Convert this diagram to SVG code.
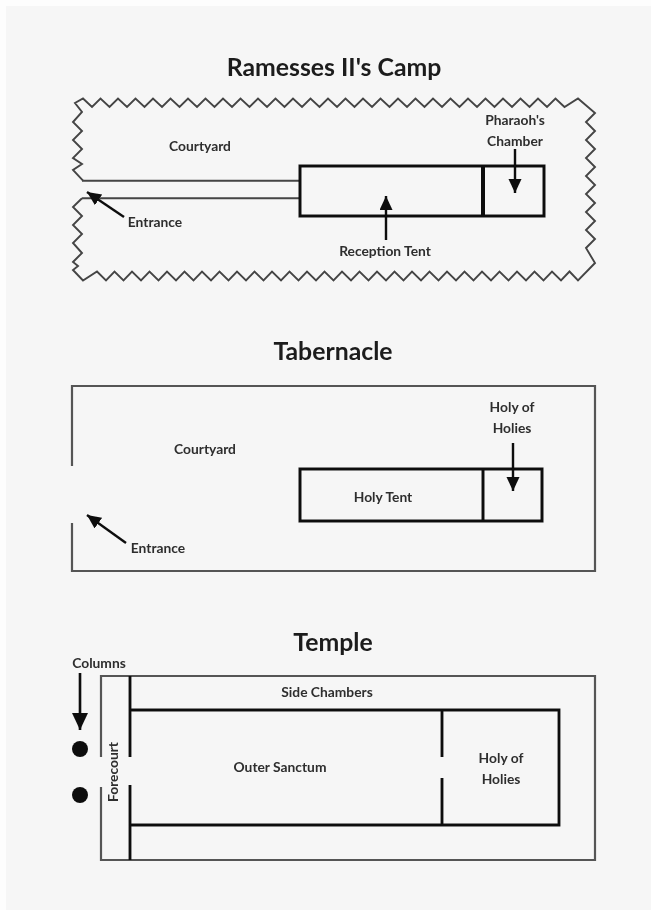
<svg xmlns="http://www.w3.org/2000/svg" width="651" height="910" viewBox="0 0 651 910">
<defs>
<filter id="soft" filterUnits="userSpaceOnUse" x="0" y="0" width="651" height="910"><feGaussianBlur stdDeviation="0.7"/></filter>
<marker id="ah" markerUnits="userSpaceOnUse" markerWidth="16" markerHeight="14" refX="14" refY="6.5" orient="auto"><path d="M0 0L14 6.5L0 13Z" fill="#111"/></marker>
<marker id="ahb" markerUnits="userSpaceOnUse" markerWidth="19" markerHeight="18" refX="17" refY="8" orient="auto"><path d="M0 0L17 8L0 16Z" fill="#111"/></marker>
</defs>
<style>
text{font-family:"Lato","Liberation Sans",sans-serif;font-weight:700;fill:#2e2e2e;font-size:13.8px;text-anchor:middle}
.t{font-size:24.8px;fill:#1c1c1c}
.w{fill:none;stroke:#444;stroke-width:1.9}
.o{fill:none;stroke:#555;stroke-width:2.2}
.h{fill:none;stroke:#111;stroke-width:3}
.a{fill:none;stroke:#111;stroke-width:2.4;marker-end:url(#ah)}
.b{fill:none;stroke:#111;stroke-width:2.6;marker-end:url(#ahb)}
</style>
<rect width="651" height="910" fill="#fdfdfd"/>
<rect x="6" y="6" width="645" height="904" fill="#f6f6f6"/>
<g filter="url(#soft)">
<g id="camp">
<text class="t" x="334" y="76">Ramesses II's Camp</text>
<path class="w" d="M83 180.7L73 170L82 164L73 158L82 149L73 140L82 131L73 122L82 112L75 103L83 98.5L92 107L100.5 98.5L109.5 107L118 98.5L127 107L135.5 98.5L144.5 107L153 98.5L162 107L170.500 98.5L179.5 107L188 98.5L197 107L205.5 98.5L214.500 107L223 98.5L232 107L240.5 98.5L249.5 107L258 98.5L267 107L275.5 98.5L284.5 107L293 98.5L302 107L310.5 98.5L319.5 107L328 98.5L337 107L345.5 98.5L354.5 107L363 98.5L372 107L380.5 98.5L389.5 107L398 98.5L407 107L415.500 98.5L424.5 107L433 98.5L442 107L450.5 98.5L459.5 107L468 98.5L477 107L485.5 98.5L494.5 107L503 98.5L512 107L520.5 98.5L529.5 107L538 98.5L547 107L555.5 98.5L564.5 107L578 98.5L595 113L586 122L595 131L586 140L595 149L586 158L595 167L586 176L595 185L586 194L595 203L586 212L595 221L586 230L595 239L586 248L595 263L578 280.5L569.500 271.5L561 280.5L552 271.5L543.5 280.5L534.5 271.5L526 280.5L517 271.5L508.5 280.5L499.5 271.5L491 280.5L482 271.5L473.5 280.5L464.5 271.5L456 280.5L447 271.5L438.5 280.5L429.5 271.5L421 280.5L412 271.5L403.5 280.5L394.5 271.5L386 280.5L377 271.5L368.5 280.5L359.5 271.5L351 280.5L342 271.5L333.5 280.5L324.500 271.5L316 280.5L307 271.5L298.5 280.5L289.5 271.5L281 280.5L272 271.5L263.5 280.5L254.5 271.5L246 280.5L237 271.5L228.5 280.5L219.5 271.5L211 280.5L202 271.5L193.5 280.5L184.5 271.5L176 280.5L167 271.5L158.5 280.5L149.5 271.5L141 280.5L132 271.5L123.5 280.5L114.5 271.5L106 280.5L97 271.5L83 280.5L73 270L78 266L73 262L82 253L73 243L82 234L73 225L82 216L73 207L82 198.300"/>
<path class="w" d="M82 180.700H300M82 198.300H300"/>
<path class="h" d="M300 166H544V216H300Z"/>
<path d="M483 166V216" fill="none" stroke="#111" stroke-width="4"/>
<text x="200" y="151">Courtyard</text>
<text x="155" y="227">Entrance</text>
<text x="515" y="125">Pharaoh's</text>
<text x="515" y="146">Chamber</text>
<text x="385" y="256">Reception Tent</text>
</g>
<g id="tabernacle">
<text class="t" x="333" y="360">Tabernacle</text>
<path class="o" d="M72 466V386H595V571H72V523"/>
<path class="h" d="M300 469H542V521H300Z"/>
<path d="M483 469V521" fill="none" stroke="#111" stroke-width="3"/>
<text x="205" y="454">Courtyard</text>
<text x="158" y="553">Entrance</text>
<text x="383" y="502">Holy Tent</text>
<text x="512" y="412">Holy of</text>
<text x="512" y="433">Holies</text>
</g>
<g id="temple">
<text class="t" x="333" y="651">Temple</text>
<path class="o" d="M101 757V676H595V860H101V787"/>
<path d="M130 676V757M130 785V860M130 710H559V825H130M442 710V757M442 778V825" fill="none" stroke="#111" stroke-width="2.8"/>
<circle cx="80" cy="749" r="8" fill="#111"/>
<circle cx="80" cy="795" r="8" fill="#111"/>
<text x="99" y="668">Columns</text>
<text x="327" y="697">Side Chambers</text>
<text x="280" y="772">Outer Sanctum</text>
<text x="501" y="763">Holy of</text>
<text x="501" y="784">Holies</text>
<text transform="translate(118 772) rotate(-90)">Forecourt</text>
</g>
</g>
<g id="connectors" filter="url(#soft)">
<path class="a" d="M124 217L87 192"/>
<path class="a" d="M515 149V193"/>
<path class="a" d="M386 240V196"/>
<path class="a" d="M126 543L87 515"/>
<path class="a" d="M513 443V491"/>
<path class="b" d="M80 673V730"/>
</g>
</svg>
